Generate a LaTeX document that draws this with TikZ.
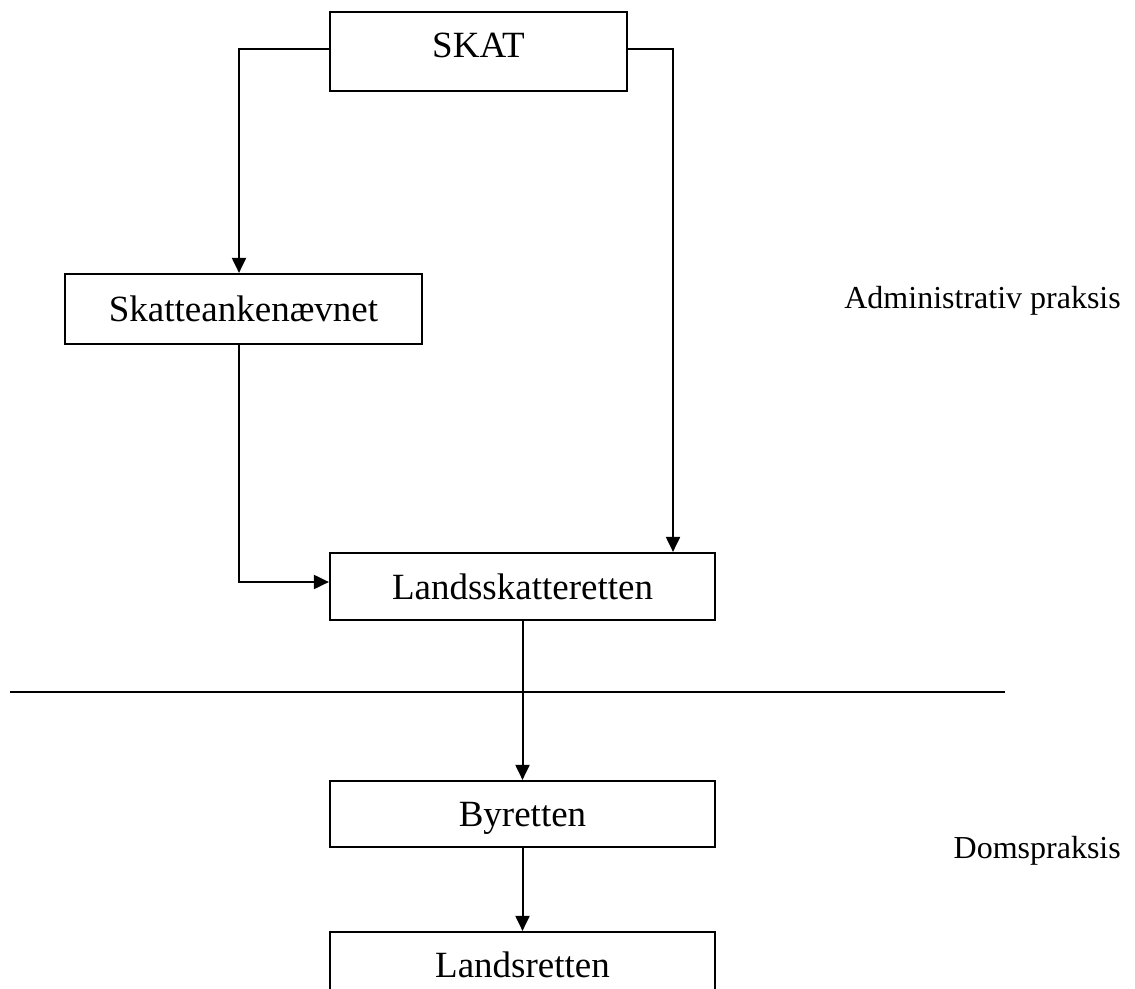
\documentclass[tikz,border=0pt]{standalone}
\usepackage{fontspec}
\setmainfont{Liberation Serif}
\usetikzlibrary{arrows.meta}

\begin{document}
\begin{tikzpicture}[x=1pt, y=-1pt,
    box/.style={draw, line width=2.2pt, inner sep=0pt, text height=25pt, text depth=0pt,
        font=\fontsize{37}{44}\selectfont},
    side/.style={anchor=base east, inner sep=0pt, font=\fontsize{32}{38}\selectfont},
    arr/.style={line width=2pt, -{Triangle[length=15pt, width=14pt]}},
    wire/.style={line width=2pt}]
    \clip (0,0) rectangle (1135,988);

    \node[box, minimum width=297pt, minimum height=79pt, text depth=14pt] (skat) at (478.5,51.5) {SKAT};
    \node[box, minimum width=357pt, minimum height=70pt] (sanke) at (243.5,309) {Skatteankenævnet};
    \node[box, minimum width=385pt, minimum height=67pt] (lsr) at (522.5,586.5) {Landsskatteretten};
    \node[box, minimum width=385pt, minimum height=66pt] (byret) at (522.5,814) {Byretten};
    \node[box, minimum width=385pt, minimum height=66pt] (lret) at (522.5,965) {Landsretten};

    \node[side] (admin) at (1121,308) {Administrativ praksis};
    \node[side] (doms) at (1121,858) {Domspraksis};

    \draw[arr] ([yshift=2.5pt]skat.west) -| ([xshift=-4.5pt]sanke.north);
    \draw[arr] ([yshift=2.5pt]skat.east) -| ([xshift=150.5pt]lsr.north);
    \draw[arr] ([xshift=-4.5pt]sanke.south) |- ([yshift=4.5pt]lsr.west);
    \draw[arr] (lsr.south) -- (byret.north);
    \draw[arr] (byret.south) -- (lret.north);

    \coordinate (sepl) at (10,692);
    \coordinate (sepr) at (1005,692);
    \draw[wire] (sepl) -- (sepr);

\end{tikzpicture}
\end{document}
